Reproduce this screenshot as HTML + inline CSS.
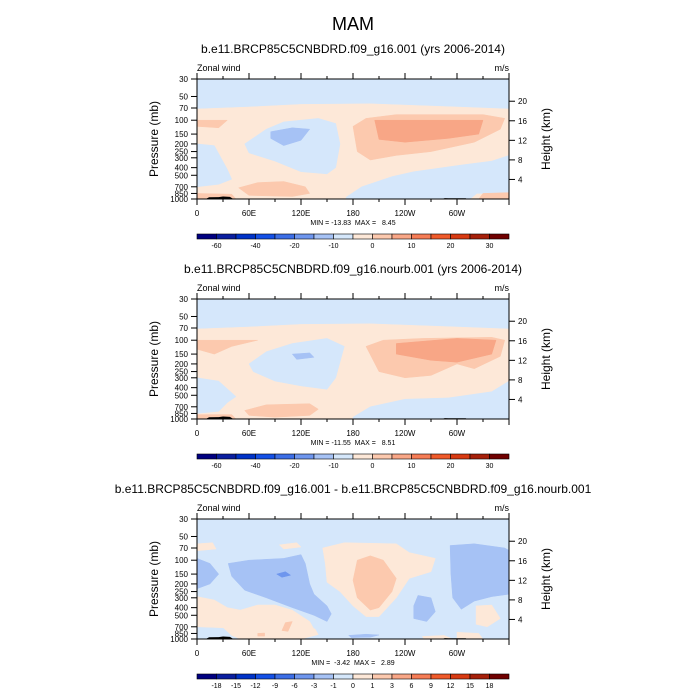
<!DOCTYPE html>
<html><head><meta charset="utf-8"><style>
html,body{margin:0;padding:0;background:#fff;}
svg{display:block;font-family:"Liberation Sans",sans-serif;}
text{white-space:pre;}
</style></head><body>
<svg id="chart" width="700" height="700" viewBox="0 0 700 700" xmlns="http://www.w3.org/2000/svg" xml:space="preserve">
<text x="353" y="30" font-size="18" text-anchor="middle">MAM</text>
</svg>
<script>
const NS="http://www.w3.org/2000/svg";
const svg=document.getElementById('chart');
const colors=["#000080","#0a1fa0","#0033c8","#1450e6","#3c6ee6","#6e96ee","#a6c2f5","#d5e7fb","#fde8d8","#fcc9ae","#f8a686","#f57c55","#ef5a2a","#d83a12","#a6200a","#700000"];
const pLevels=[30,50,70,100,150,200,250,300,400,500,700,850,1000];
const hLevels=[4,8,12,16,20];
const lonTicks=[0,60,120,180,240,300];
const lonLabels=["0","60E","120E","180","120W","60W"];
const cbLabels1=["-60","-40","-20","-10","0","10","20","30"];
const cbLabels3=["-18","-15","-12","-9","-6","-3","-1","0","1","3","6","9","12","15","18"];
const titles=["b.e11.BRCP85C5CNBDRD.f09_g16.001 (yrs 2006-2014)","b.e11.BRCP85C5CNBDRD.f09_g16.nourb.001 (yrs 2006-2014)","b.e11.BRCP85C5CNBDRD.f09_g16.001 - b.e11.BRCP85C5CNBDRD.f09_g16.nourb.001"];
const minmax=["MIN = -13.83  MAX =   8.45","MIN = -11.55  MAX =   8.51","MIN =  -3.42  MAX =   2.89"];
const panelTops=[79,299,519];
const layers1=[
 [8,[[0,72],[60,68],[120,63],[200,62],[300,68],[360,72],[360,1000],[0,1000]]],
 [7,[[0,200],[20,210],[35,420],[40,560],[25,650],[0,700]]],
 [7,[[55,200],[80,130],[100,105],[140,95],[160,110],[165,200],[160,400],[150,480],[120,450],[90,330],[60,260]]],
 [7,[[172,950],[190,700],[225,520],[250,450],[270,420],[305,370],[340,330],[360,280],[360,850],[323,850],[315,1000],[172,1000]]],
 [9,[[180,120],[195,95],[230,85],[330,85],[355,95],[350,130],[320,190],[270,250],[230,280],[200,320],[185,250]]],
 [9,[[0,100],[35,100],[25,125],[0,120]]],
 [9,[[48,720],[70,620],[100,600],[125,700],[130,850],[110,930],[60,900]]],
 [9,[[0,850],[40,870],[45,1000],[0,1000]]],
 [9,[[330,850],[360,830],[360,1000],[325,1000]]],
 [10,[[205,100],[330,100],[325,150],[290,170],[240,190],[210,175]]],
 [6,[[85,140],[110,125],[130,130],[120,180],[100,210],[85,170]]]
];
const layers2=[
 [8,[[0,72],[60,68],[120,63],[200,62],[300,68],[360,72],[360,1000],[0,1000]]],
 [7,[[0,300],[25,330],[45,520],[35,620],[25,800],[0,850]]],
 [7,[[60,200],[80,140],[110,110],[150,95],[170,120],[160,300],[150,420],[120,380],[90,330],[65,250]]],
 [7,[[180,950],[200,700],[240,560],[290,540],[340,450],[360,330],[360,1000],[180,1000]]],
 [9,[[195,120],[215,100],[260,95],[340,92],[355,100],[350,160],[320,230],[300,200],[270,280],[240,300],[210,250]]],
 [9,[[0,100],[70,100],[40,120],[20,150],[0,130]]],
 [9,[[55,780],[80,660],[130,640],[140,750],[130,900],[90,950],[60,900]]],
 [9,[[0,880],[40,880],[45,1000],[0,1000]]],
 [10,[[230,110],[300,95],[345,100],[340,150],[300,190],[270,180],[230,150]]],
 [6,[[110,150],[130,145],[135,165],[115,175]]]
];
const layers3=[
 [6,[[0,95],[15,110],[25,150],[15,200],[0,230]]],
 [6,[[36,110],[60,100],[100,95],[120,85],[125,110],[130,200],[135,270],[150,380],[155,480],[150,600],[135,500],[110,400],[80,300],[55,240],[40,160]]],
 [6,[[292,65],[320,62],[355,70],[360,75],[360,270],[340,290],[320,330],[305,420],[295,300],[293,150]]],
 [6,[[255,280],[270,300],[275,450],[265,600],[250,550],[250,380]]],
 [6,[[175,900],[195,870],[210,890],[200,950],[178,960]]],
 [5,[[92,150],[102,140],[108,155],[98,165]]],
 [8,[[0,290],[20,320],[35,400],[50,430],[70,370],[90,370],[110,430],[130,600],[135,750],[30,720],[0,700]]],
 [8,[[30,715],[136,740],[140,880],[120,1000],[50,1000],[40,900]]],
 [8,[[145,70],[170,60],[230,62],[245,80],[275,95],[270,140],[245,170],[230,300],[210,520],[195,520],[180,380],[165,250],[150,190],[148,110]]],
 [9,[[185,100],[200,88],[215,100],[230,170],[225,250],[210,400],[200,430],[185,300],[180,180]]],
 [8,[[0,62],[18,60],[22,72],[0,76]]],
 [8,[[95,64],[115,60],[120,68],[100,72]]],
 [8,[[322,380],[340,370],[345,450],[350,550],[335,700],[322,650]]],
 [8,[[300,820],[325,850],[330,1000],[300,1000]]],
 [8,[[260,930],[285,900],[295,1000],[262,1000]]],
 [9,[[102,620],[110,600],[105,800],[98,780]]],
 [9,[[70,850],[78,840],[78,920],[70,920]]]
];
const topo=[[[10,1000],[14,950],[25,945],[30,930],[38,940],[42,1000]],[[100,1000],[101,985],[103,1000]],[[282,1000],[286,975],[290,980],[310,980],[312,1000]]];
const allLayers=[layers1,layers2,layers3];
const L=197,R=509,W=312,H=120;
function el(tag,attrs,parent){const e=document.createElementNS(NS,tag);for(const k in attrs)e.setAttribute(k,attrs[k]);(parent||svg).appendChild(e);return e;}
function xs(lon){return L+lon/360*W;}
function ysF(top){return p=>top+Math.log(p/30)/Math.log(1000/30)*H;}
for(let i=0;i<3;i++){
 const top=panelTops[i],ys=ysF(top),bot=top+H;
 const g=el('g',{});
 
 
 const t=el('text',{x:353,y:top-26,'font-size':12,'text-anchor':'middle'},g);t.textContent=titles[i];
 
 
 const bg=el('rect',{x:L,y:top,width:W,height:H,fill:colors[7]},g);
 
 
 allLayers[i].forEach(ly=>{
  const d='M'+ly[1].map(q=>xs(q[0]).toFixed(1)+','+ys(q[1]).toFixed(1)).join('L')+'Z';
  const pth=el('path',{d:d,fill:colors[ly[0]],stroke:colors[ly[0]],'stroke-width':0.5,'stroke-linejoin':'round'},g);
  
  
 });
 topo.forEach(tp=>{
  const d='M'+tp.map(q=>xs(q[0]).toFixed(1)+','+ys(q[1]).toFixed(1)).join('L')+'Z';
  const pth=el('path',{d:d,fill:'#000'},g);
  
  
 });
 const fr=el('rect',{x:L,y:top,width:W,height:H,fill:'none',stroke:'#000','stroke-width':1},g);
 
 
 const zw=el('text',{x:L,y:top-8,'font-size':9},g);zw.textContent='Zonal wind';
 
 
 const un=el('text',{x:R,y:top-8,'font-size':9,'text-anchor':'end'},g);un.textContent='m/s';
 
 
 for(let lon=0;lon<=360;lon+=30){
  const major=lon%60===0,len=major?6:3;
  el('line',{x1:xs(lon),x2:xs(lon),y1:top,y2:top-len,stroke:'#000','stroke-width':1},g);
  el('line',{x1:xs(lon),x2:xs(lon),y1:bot,y2:bot+len,stroke:'#000','stroke-width':1},g);
 }
 lonTicks.forEach((lon,k)=>{
  const tx=el('text',{x:xs(lon),y:bot+17,'font-size':8,'text-anchor':'middle'},g);tx.textContent=lonLabels[k];
  
  
 });
 pLevels.forEach(p=>{
  el('line',{x1:L,x2:L-6,y1:ys(p),y2:ys(p),stroke:'#000','stroke-width':1},g);
  const tx=el('text',{x:L-9,y:ys(p)+3,'font-size':8,'text-anchor':'end'},g);tx.textContent=p;
  
  
 });
 hLevels.forEach(h=>{
  const yy=ys(1000*Math.exp(-h/7.0));
  el('line',{x1:R,x2:R+6,y1:yy,y2:yy,stroke:'#000','stroke-width':1},g);
  const tx=el('text',{x:R+9,y:yy+3,'font-size':8},g);tx.textContent=h;
  
  
 });
 const yt=el('text',{x:0,y:0,'font-size':12,'text-anchor':'middle',transform:`translate(158,${top+H/2}) rotate(-90)`},g);yt.textContent='Pressure (mb)';
 
 
 const ht=el('text',{x:0,y:0,'font-size':12,'text-anchor':'middle',transform:`translate(550,${top+H/2}) rotate(-90)`},g);ht.textContent='Height (km)';
 
 
 const mm=el('text',{x:353,y:bot+26,'font-size':7,'text-anchor':'middle'},g);mm.textContent=minmax[i];
 
 
 const cy=bot+35,bw=(R-L)/16;
 const cb=el('g',{},g);
 
 
 colors.forEach((c,k)=>{el('rect',{x:L+k*bw,y:cy,width:bw,height:5,fill:c,stroke:'#000','stroke-width':0.6},cb);});
 const labs=i===2?cbLabels3:cbLabels1;
 labs.forEach((lb,k)=>{
  const edge=i===2?k+1:2*k+1;
  const tx=el('text',{x:L+edge*bw,y:cy+14,'font-size':7,'text-anchor':'middle'},cb);tx.textContent=lb;
  
  
 });
}
</script>
</body></html>
